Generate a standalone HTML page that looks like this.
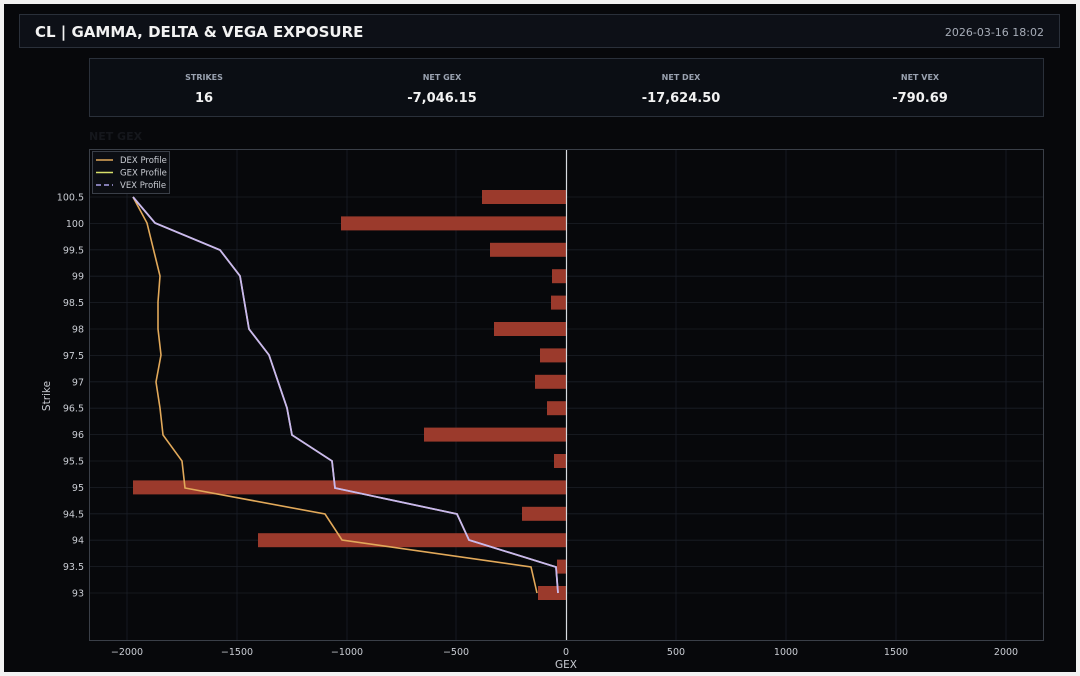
<!DOCTYPE html>
<html><head><meta charset="utf-8"><style>
body{margin:0;background:#fff;}
svg{display:block;font-family:"DejaVu Sans","Liberation Sans",sans-serif;}
</style></head><body>
<svg width="1080" height="676" viewBox="0 0 1080 676" xmlns="http://www.w3.org/2000/svg">
<rect x="0" y="0" width="1080" height="676" fill="#f2f2f2"/>
<rect x="4" y="4" width="1072" height="668" fill="#07080b"/>
<!-- header -->
<rect x="19.5" y="14.5" width="1040" height="33" fill="#0d1017" stroke="#2a303a"/>
<text x="35" y="37" fill="#f2f2f2" font-size="15" font-weight="bold">CL | GAMMA, DELTA &amp; VEGA EXPOSURE</text>
<text x="1044" y="36" fill="#a7adb8" font-size="11" text-anchor="end">2026-03-16 18:02</text>
<!-- stats -->
<rect x="89.5" y="58.5" width="954" height="58" fill="#0b0e14" stroke="#2a303a"/>
<g text-anchor="middle">
<text x="204" y="80" fill="#9aa2b0" font-size="8" font-weight="bold">STRIKES</text>
<text x="204" y="102" fill="#f2f2f2" font-size="13" font-weight="bold">16</text>
<text x="442" y="80" fill="#9aa2b0" font-size="8" font-weight="bold">NET GEX</text>
<text x="442" y="102" fill="#f2f2f2" font-size="13" font-weight="bold">-7,046.15</text>
<text x="681" y="80" fill="#9aa2b0" font-size="8" font-weight="bold">NET DEX</text>
<text x="681" y="102" fill="#f2f2f2" font-size="13" font-weight="bold">-17,624.50</text>
<text x="920" y="80" fill="#9aa2b0" font-size="8" font-weight="bold">NET VEX</text>
<text x="920" y="102" fill="#f2f2f2" font-size="13" font-weight="bold">-790.69</text>
</g>
<text x="89" y="140" fill="#15171c" font-size="11" font-weight="bold">NET GEX</text>
<!-- plot area -->
<rect x="89.5" y="149.5" width="954" height="491" fill="#07080b" stroke="#3a3f48"/>
<g stroke="#1b1f26" stroke-width="0.8">
<line x1="127" y1="150" x2="127" y2="640"/><line x1="237" y1="150" x2="237" y2="640"/>
<line x1="347" y1="150" x2="347" y2="640"/><line x1="456" y1="150" x2="456" y2="640"/>
<line x1="676" y1="150" x2="676" y2="640"/><line x1="786" y1="150" x2="786" y2="640"/>
<line x1="896" y1="150" x2="896" y2="640"/><line x1="1006" y1="150" x2="1006" y2="640"/>
<line x1="90" y1="197" x2="1043" y2="197"/><line x1="90" y1="223.4" x2="1043" y2="223.4"/>
<line x1="90" y1="249.8" x2="1043" y2="249.8"/><line x1="90" y1="276.2" x2="1043" y2="276.2"/>
<line x1="90" y1="302.6" x2="1043" y2="302.6"/><line x1="90" y1="329" x2="1043" y2="329"/>
<line x1="90" y1="355.4" x2="1043" y2="355.4"/><line x1="90" y1="381.8" x2="1043" y2="381.8"/>
<line x1="90" y1="408.2" x2="1043" y2="408.2"/><line x1="90" y1="434.6" x2="1043" y2="434.6"/>
<line x1="90" y1="461" x2="1043" y2="461"/><line x1="90" y1="487.4" x2="1043" y2="487.4"/>
<line x1="90" y1="513.8" x2="1043" y2="513.8"/><line x1="90" y1="540.2" x2="1043" y2="540.2"/>
<line x1="90" y1="566.6" x2="1043" y2="566.6"/><line x1="90" y1="593" x2="1043" y2="593"/>
</g>
<!-- bars -->
<g fill="#9b3a2c">
<rect x="482" y="190" width="84" height="14"/>
<rect x="341" y="216.4" width="225" height="14"/>
<rect x="490" y="242.8" width="76" height="14"/>
<rect x="552" y="269.2" width="14" height="14"/>
<rect x="551" y="295.6" width="15" height="14"/>
<rect x="494" y="322" width="72" height="14"/>
<rect x="540" y="348.4" width="26" height="14"/>
<rect x="535" y="374.8" width="31" height="14"/>
<rect x="547" y="401.2" width="19" height="14"/>
<rect x="424" y="427.6" width="142" height="14"/>
<rect x="554" y="454" width="12" height="14"/>
<rect x="133" y="480.4" width="433" height="14"/>
<rect x="522" y="506.8" width="44" height="14"/>
<rect x="258" y="533.2" width="308" height="14"/>
<rect x="557" y="559.6" width="9" height="14"/>
<rect x="538" y="586" width="28" height="14"/>
</g>
<line x1="566.5" y1="150" x2="566.5" y2="640" stroke="#d8dbe0" stroke-width="1.2"/>
<!-- lines -->
<polyline fill="none" stroke="#e2a95a" stroke-width="1.6" points="133,197 147,223 160,276 158,302 158,329 161,355 156,382 160,408 163,435 182,461 185,488 325,514 342,540 531,567 537,593"/>
<polyline fill="none" stroke="#d8e06a" stroke-width="1.6" points="133,197 155,223 220,250 240,276 249,329 269,355 287,408 292,435 332,461 335,488 457,514 469,540 556,567 558,593"/>
<polyline fill="none" stroke="#c9b8ee" stroke-width="1.8" points="133,197 155,223 220,250 240,276 249,329 269,355 287,408 292,435 332,461 335,488 457,514 469,540 556,567 558,593"/>
<!-- legend -->
<rect x="92.5" y="151.5" width="77" height="42" fill="#0c0e13" stroke="#3a3f48"/>
<line x1="96" y1="160" x2="113" y2="160" stroke="#e2a95a" stroke-width="1.6"/>
<line x1="96" y1="172.5" x2="113" y2="172.5" stroke="#d8e06a" stroke-width="1.6"/>
<line x1="96" y1="185" x2="113" y2="185" stroke="#a9a0e8" stroke-width="1.6" stroke-dasharray="5,3"/>
<g fill="#c9ccd3" font-size="8.5">
<text x="120" y="163">DEX Profile</text><text x="120" y="175.5">GEX Profile</text><text x="120" y="188">VEX Profile</text>
</g>
<!-- y ticks -->
<g fill="#c9ccd3" font-size="9.5" text-anchor="end">
<text x="84" y="200.5">100.5</text><text x="84" y="227">100</text><text x="84" y="253.3">99.5</text>
<text x="84" y="279.7">99</text><text x="84" y="306">98.5</text><text x="84" y="332.5">98</text>
<text x="84" y="359">97.5</text><text x="84" y="385.3">97</text><text x="84" y="411.7">96.5</text>
<text x="84" y="438">96</text><text x="84" y="464.5">95.5</text><text x="84" y="491">95</text>
<text x="84" y="517.3">94.5</text><text x="84" y="543.7">94</text><text x="84" y="570">93.5</text>
<text x="84" y="596.5">93</text>
</g>
<g fill="#c9ccd3" font-size="9.5" text-anchor="middle">
<text x="127" y="655">−2000</text><text x="237" y="655">−1500</text><text x="347" y="655">−1000</text>
<text x="456" y="655">−500</text><text x="566" y="655">0</text><text x="676" y="655">500</text>
<text x="786" y="655">1000</text><text x="896" y="655">1500</text><text x="1006" y="655">2000</text>
<text x="566" y="668" font-size="10.5">GEX</text>
</g>
<text transform="translate(50,396) rotate(-90)" fill="#c9ccd3" font-size="10.5" text-anchor="middle">Strike</text>
</svg>
</body></html>
